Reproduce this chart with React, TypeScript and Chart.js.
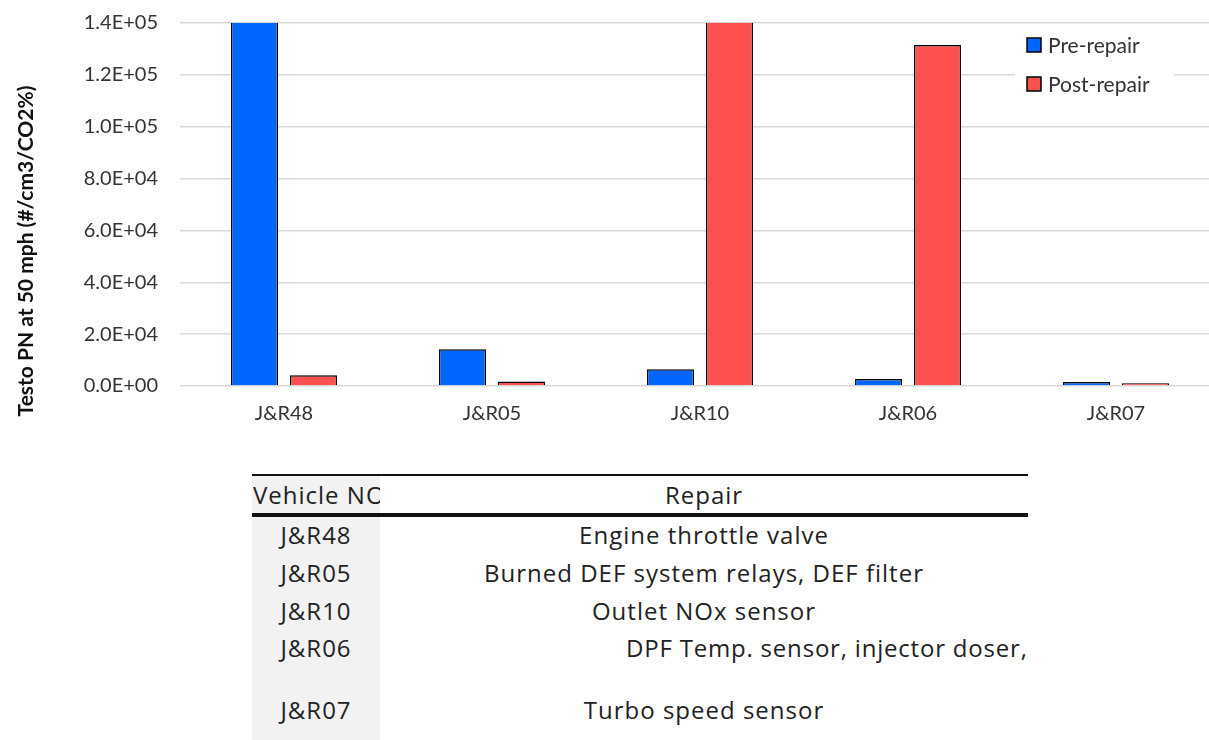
import React, { useEffect, useRef } from "react";
import { Chart, registerables } from "chart.js";

Chart.register(...registerables);

const categories = ["J&R48", "J&R05", "J&R10", "J&R06", "J&R07"];
const preRepair = [230000, 14200, 6500, 2700, 1500];
const postRepair = [4100, 1700, 175000, 131500, 1100];
const seriesNames = ["Pre-repair", "Post-repair"];
const yTicks = [0, 20000, 40000, 60000, 80000, 100000, 120000, 140000];
const yTitle = "Testo PN at 50 mph (#/cm3/CO2%)";
const tableHeader = ["Vehicle NO", "Repair"];
const tableVehicles = ["J&R48", "J&R05", "J&R10", "J&R06", "J&R07"];
const tableRepairs = [
  "Engine throttle valve",
  "Burned DEF system relays, DEF filter",
  "Outlet NOx sensor",
  "DPF Temp. sensor, injector doser,",
  "Turbo speed sensor",
];

const BLUE = "#0066ff";
const RED = "#ff5050";
const FONT = "Lato, 'Open Sans', sans-serif";
const TFONT = "'Open Sans', Lato, sans-serif";
const TXT = "#333333";
const CANVAS_TOP = -11;

function fmtExp(v: number): string {
  if (v === 0) return "0.0E+00";
  const s = v.toExponential(1).toUpperCase();
  const [m, e] = s.split("E");
  const sign = e[0] === "-" ? "-" : "+";
  const d = e.replace(/[+-]/, "").padStart(2, "0");
  return `${m}E${sign}${d}`;
}

const overlayPlugin = {
  id: "overlay",
  afterDraw(chart: any) {
    const ctx = chart.ctx;
    const off = -CANVAS_TOP;
    ctx.save();
    ctx.translate(26, 251 + off);
    ctx.rotate(-Math.PI / 2);
    ctx.font = `bold 21px ${FONT}`;
    ctx.fillStyle = "#111";
    ctx.textAlign = "center";
    ctx.textBaseline = "middle";
    ctx.fillText(yTitle, 0, 0);
    ctx.restore();

    ctx.save();
    ctx.fillStyle = "#fff";
    ctx.fillRect(1015, 28 + off, 159, 74);
    const colors = [BLUE, RED];
    const ys = [45 + off, 84 + off];
    ctx.font = `21px ${FONT}`;
    ctx.textBaseline = "middle";
    ctx.textAlign = "left";
    seriesNames.forEach((n, i) => {
      ctx.fillStyle = colors[i];
      ctx.fillRect(1027, ys[i] - 7, 14, 14);
      ctx.strokeStyle = "#000";
      ctx.lineWidth = 1.5;
      ctx.strokeRect(1027, ys[i] - 7, 14, 14);
      ctx.fillStyle = TXT;
      ctx.fillText(n, 1048, ys[i] + 1);
    });
    ctx.restore();
  },
};

export default function App() {
  const ref = useRef<HTMLCanvasElement | null>(null);
  useEffect(() => {
    if (!ref.current) return;
    const chart = new Chart(ref.current, {
      type: "bar",
      data: {
        labels: categories,
        datasets: [
          {
            label: seriesNames[0],
            data: preRepair,
            backgroundColor: BLUE,
            borderColor: "#000",
            borderWidth: 1.5,
          },
          {
            label: seriesNames[1],
            data: postRepair,
            backgroundColor: RED,
            borderColor: "#000",
            borderWidth: 1.5,
          },
        ],
      },
      options: {
        animation: false,
        responsive: false,
        maintainAspectRatio: false,
        layout: { padding: { top: 10, right: 20, left: 0, bottom: 0 } },
        datasets: { bar: { categoryPercentage: 0.567, barPercentage: 0.8 } },
        plugins: { legend: { display: false }, tooltip: { enabled: false } },
        scales: {
          x: {
            grid: { display: false, drawTicks: false },
            border: { display: false },
            ticks: { font: { family: FONT, size: 20 }, color: TXT, padding: 16 },
            afterFit: (s: any) => {
              s.height = 54;
            },
          },
          y: {
            min: 0,
            max: 140000,
            afterBuildTicks: (s: any) => {
              s.ticks = yTicks.map((v) => ({ value: v }));
            },
            grid: { color: "#d9d9d9", lineWidth: 1.5, drawTicks: false },
            border: { display: false },
            ticks: {
              font: { family: FONT, size: 20 },
              color: TXT,
              padding: 22,
              callback: (v: any) => fmtExp(Number(v)),
            },
            afterFit: (s: any) => {
              s.width = 180;
            },
          },
        },
      },
      plugins: [overlayPlugin],
    } as any);
    return () => chart.destroy();
  }, []);

  const rowTops = [516, 554, 592, 630, 690];
  const rowHeights = [38, 38, 38, 40, 40];
  const fs = 24;
  const ls = "1px";

  return (
    <div
      style={{
        position: "fixed",
        left: 0,
        top: 0,
        width: 1209,
        height: 740,
        overflow: "hidden",
        background: "#fff",
        fontFamily: TFONT,
      }}
    >
      <canvas
        ref={ref}
        width={1240}
        height={451}
        style={{ position: "absolute", left: 0, top: CANVAS_TOP }}
      />
      <div style={{ position: "absolute", left: 252, top: 474, width: 776, height: 266, overflow: "hidden" }}>
        <div style={{ position: "absolute", left: 0, top: 0, width: 128, height: 266, background: "#f2f2f2" }} />
        <div style={{ position: "absolute", left: 0, top: 0, width: 776, height: 2, background: "#111" }} />
        <div style={{ position: "absolute", left: 0, top: 39, width: 776, height: 4, background: "#111" }} />
        <div
          style={{
            position: "absolute",
            left: 1,
            top: 2,
            width: 127,
            height: 37,
            lineHeight: "37px",
            fontSize: fs,
            letterSpacing: ls,
            color: "#222",
            whiteSpace: "nowrap",
            overflow: "hidden",
          }}
        >
          {tableHeader[0]}
        </div>
        <div
          style={{
            position: "absolute",
            left: 128,
            top: 2,
            width: 648,
            height: 37,
            lineHeight: "37px",
            fontSize: fs,
            letterSpacing: ls,
            color: "#222",
            textAlign: "center",
          }}
        >
          {tableHeader[1]}
        </div>
        {tableVehicles.map((v, i) => {
          const top = rowTops[i] - 474;
          const h = rowHeights[i];
          const isWide = i === 3;
          return (
            <React.Fragment key={v}>
              <div
                style={{
                  position: "absolute",
                  left: 0,
                  top,
                  width: 128,
                  height: h,
                  lineHeight: isWide ? "36px" : `${h}px`,
                  fontSize: fs,
                  letterSpacing: ls,
                  color: "#222",
                  textAlign: "center",
                }}
              >
                {v}
              </div>
              <div
                style={{
                  position: "absolute",
                  left: isWide ? 374 : 128,
                  top,
                  width: isWide ? 402 : 648,
                  height: h,
                  lineHeight: isWide ? "36px" : `${h}px`,
                  fontSize: fs,
                  letterSpacing: isWide ? "0.8px" : ls,
                  color: "#222",
                  textAlign: isWide ? "left" : "center",
                  whiteSpace: "nowrap",
                  overflow: "hidden",
                }}
              >
                {tableRepairs[i]}
              </div>
            </React.Fragment>
          );
        })}
      </div>
    </div>
  );
}
